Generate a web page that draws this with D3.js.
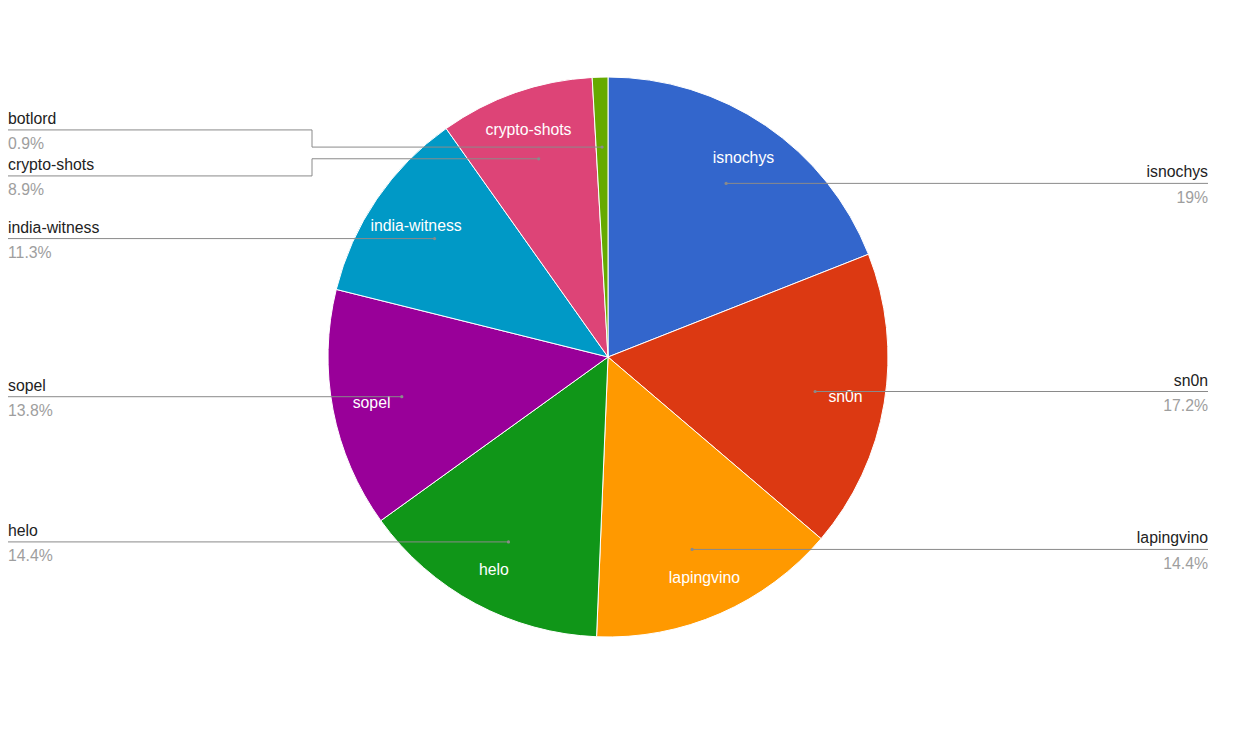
<!DOCTYPE html>
<html>
<head>
<meta charset="utf-8">
<script src="https://cdn.jsdelivr.net/npm/d3@7"></script>
<style>
  html, body { margin: 0; padding: 0; background: #fff; }
  text { font-family: "Liberation Sans", Arial, sans-serif; }
</style>
</head>
<body>
<svg id="chart" width="1250" height="750"></svg>
<script>
const categories = ["isnochys", "sn0n", "lapingvino", "helo", "sopel", "india-witness", "crypto-shots", "botlord"];
const values = [19, 17.2, 14.4, 14.4, 13.8, 11.3, 8.9, 0.9];
const colors = ["#3366cc", "#dc3912", "#ff9900", "#109618", "#990099", "#0099c6", "#dd4477", "#66aa00"];

const W = 1250, H = 750;
const cx = 608, cy = 357, R = 280;
const fontSize = 15.8;
const leftX = 8, rightX = 1208;
const labelGap = 46;

const data = categories.map((c, i) => ({ name: c, value: values[i], color: colors[i] }));
const total = d3.sum(values);
const pctFmt = d3.format(".1~f");

const svg = d3.select("#chart");
svg.append("rect").attr("width", W).attr("height", H).attr("fill", "#fff");

const g = svg.append("g").attr("transform", `translate(${cx},${cy})`);

const pie = d3.pie().sort(null).value(d => d.value);
const arcs = pie(data);
const arc = d3.arc().innerRadius(0).outerRadius(R);
const dotArc = d3.arc().innerRadius(R * 0.75).outerRadius(R * 0.75);

g.selectAll("path.slice")
  .data(arcs)
  .join("path")
  .attr("class", "slice")
  .attr("d", arc)
  .attr("fill", d => d.data.color)
  .attr("stroke", "#fff")
  .attr("stroke-width", 1);

// inner labels: placed along the mid angle, as far out as the text box still fits in the slice
function fits(d, x, y, w, h) {
  const corners = [[x - w / 2, y - h / 2], [x + w / 2, y - h / 2], [x - w / 2, y + h / 2], [x + w / 2, y + h / 2]];
  const margin = 4;
  return corners.every(([px, py]) => {
    const dist = Math.hypot(px, py);
    if (dist > R - margin) return false;
    let a = Math.atan2(px, -py);
    if (a < 0) a += 2 * Math.PI;
    const toStart = (a - d.startAngle) * dist;
    const toEnd = (d.endAngle - a) * dist;
    return a >= d.startAngle && a <= d.endAngle && toStart > margin && toEnd > margin;
  });
}

const inner = g.selectAll("text.inner")
  .data(arcs.filter(d => (d.endAngle - d.startAngle) > 0.2))
  .join("text")
  .attr("class", "inner")
  .attr("text-anchor", "middle")
  .attr("dy", "0.35em")
  .attr("fill", "#fff")
  .attr("font-size", fontSize)
  .text(d => d.data.name);

inner.each(function (d) {
  const w = this.getComputedTextLength();
  const h = fontSize * 0.9;
  const mid = (d.startAngle + d.endAngle) / 2;
  let pos = null;
  for (let f = 0.86; f > 0.4; f -= 0.005) {
    const x = Math.sin(mid) * R * f, y = -Math.cos(mid) * R * f;
    if (fits(d, x, y, w, h)) { pos = [x, y]; break; }
  }
  if (!pos) pos = [Math.sin(mid) * R * 0.6, -Math.cos(mid) * R * 0.6];
  d3.select(this).attr("transform", `translate(${pos})`);
});

// outside labels layout
const items = arcs.map(d => {
  const [dx, dy] = dotArc.centroid(d);
  const mid = (d.startAngle + d.endAngle) / 2;
  return { d, dx, dy, side: Math.sin(mid) >= 0 ? "right" : "left", ly: dy };
});

["left", "right"].forEach(side => {
  const s = items.filter(it => it.side === side).sort((a, b) => a.dy - b.dy);
  for (let iter = 0; iter < 200; iter++) {
    let moved = false;
    for (let i = 1; i < s.length; i++) {
      const diff = s[i].ly - s[i - 1].ly;
      if (diff < labelGap - 0.01) {
        const shift = (labelGap - diff) / 2;
        s[i - 1].ly -= shift;
        s[i].ly += shift;
        moved = true;
      }
    }
    if (!moved) break;
  }
});

const lines = svg.append("g");
const elbowLeft = cx - R - 16;
const elbowRight = cx + R + 16;

items.forEach(it => {
  const px = cx + it.dx, py = cy + it.dy, ly = cy + it.ly;
  let pts;
  if (it.side === "left") {
    pts = Math.abs(ly - py) < 0.5
      ? [[px, py], [leftX, py]]
      : [[px, py], [elbowLeft, py], [elbowLeft, ly], [leftX, ly]];
  } else {
    pts = Math.abs(ly - py) < 0.5
      ? [[px, py], [rightX, py]]
      : [[px, py], [elbowRight, py], [elbowRight, ly], [rightX, ly]];
  }
  lines.append("path")
    .attr("d", d3.line()(pts))
    .attr("fill", "none")
    .attr("stroke", "#8a8a8a")
    .attr("stroke-width", 1);
  lines.append("circle")
    .attr("cx", px).attr("cy", py).attr("r", 1.6)
    .attr("fill", "#8a8a8a");

  const tx = it.side === "left" ? leftX : rightX;
  const anchor = it.side === "left" ? "start" : "end";
  lines.append("text")
    .attr("x", tx).attr("y", ly - 6)
    .attr("text-anchor", anchor)
    .attr("font-size", fontSize)
    .attr("fill", "#222")
    .text(it.d.data.name);
  lines.append("text")
    .attr("x", tx).attr("y", ly + 19.5)
    .attr("text-anchor", anchor)
    .attr("font-size", fontSize)
    .attr("fill", "#9e9e9e")
    .text(pctFmt(it.d.data.value / total * 100) + "%");
});
</script>
</body>
</html>
